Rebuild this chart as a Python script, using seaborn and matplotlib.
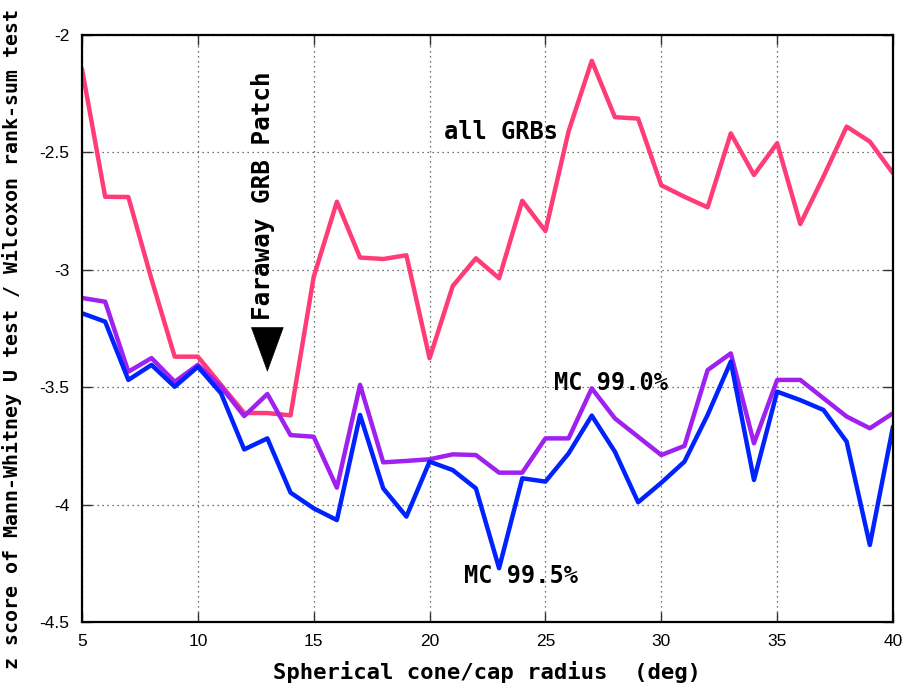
import matplotlib
matplotlib.use("Agg")
import matplotlib.pyplot as plt
import seaborn as sns
import pandas as pd

radius = list(range(5, 41))
all_grbs = [-2.145, -2.689, -2.69, -3.04, -3.37, -3.37, -3.49, -3.61, -3.61, -3.62,
            -3.03, -2.71, -2.948, -2.954, -2.938, -3.377, -3.069, -2.951, -3.036, -2.706,
            -2.835, -2.41, -2.11, -2.35, -2.356, -2.64, -2.689, -2.734, -2.419, -2.596,
            -2.461, -2.805, -2.603, -2.39, -2.454, -2.589]
mc_990 = [-3.12, -3.136, -3.434, -3.376, -3.477, -3.405, -3.498, -3.623, -3.529, -3.704,
          -3.711, -3.928, -3.49, -3.82, -3.814, -3.807, -3.786, -3.789, -3.864, -3.864,
          -3.718, -3.718, -3.505, -3.633, -3.711, -3.789, -3.75, -3.427, -3.356, -3.739,
          -3.469, -3.469, -3.547, -3.625, -3.675, -3.611]
mc_995 = [-3.185, -3.221, -3.469, -3.405, -3.498, -3.413, -3.526, -3.765, -3.718, -3.949,
          -4.016, -4.066, -3.618, -3.931, -4.051, -3.817, -3.853, -3.931, -4.271, -3.888,
          -3.902, -3.782, -3.621, -3.775, -3.99, -3.907, -3.817, -3.618, -3.391, -3.895,
          -3.519, -3.555, -3.597, -3.732, -4.172, -3.668]

xticks = [5, 10, 15, 20, 25, 30, 35, 40]
yticks = [-4.5, -4.0, -3.5, -3.0, -2.5, -2.0]
ytick_labels = ["-4.5", "-4", "-3.5", "-3", "-2.5", "-2"]

sns.set_theme(style="white")
plt.rcParams["font.family"] = ["DejaVu Sans Mono", "DejaVu Sans"]
plt.rcParams["text.color"] = "black"
plt.rcParams["axes.labelcolor"] = "black"
plt.rcParams["xtick.color"] = "black"
plt.rcParams["ytick.color"] = "black"

fig = plt.figure(figsize=(9.07, 6.91), dpi=100)
ax = fig.add_axes([82/907, 1-622/691, 811/907, 587/691])

df = pd.DataFrame({"r": radius, "all": all_grbs, "m990": mc_990, "m995": mc_995})
sns.lineplot(data=df, x="r", y="all", ax=ax, color="#ff3c78", linewidth=3.2)
sns.lineplot(data=df, x="r", y="m990", ax=ax, color="#a020f0", linewidth=3.2)
sns.lineplot(data=df, x="r", y="m995", ax=ax, color="#0022ff", linewidth=3.2)

ax.set_xlim(5, 40)
ax.set_ylim(-4.5, -2.0)
ax.set_xticks(xticks)
ax.set_xticklabels([str(v) for v in xticks], family="Liberation Sans", fontsize=12.5)
ax.set_yticks(yticks)
ax.set_yticklabels(ytick_labels, family="Liberation Sans", fontsize=12.5)
ax.tick_params(axis="both", direction="in", length=7, width=1, color="#333333",
               labelcolor="black",
               top=True, right=True, bottom=True, left=True, pad=9)
ax.grid(True, linestyle=(0, (1, 3)), color="#444444", linewidth=0.9)
for sp in ax.spines.values():
    sp.set_color("black")
    sp.set_linewidth(1.6)

ax.set_xlabel("Spherical cone/cap radius  (deg)", fontsize=16, fontweight="bold",
              color="black")
ax.set_ylabel("z score of Mann-Whitney U test / Wilcoxon rank-sum test",
              fontsize=14.3, fontweight="bold", color="black")
ax.xaxis.set_label_coords(0.499, -0.066)
ax.yaxis.set_label_coords(-0.074, 0.482)

ax.text(23.08, -2.413, "all GRBs", fontsize=17, fontweight="bold", ha="center",
        va="center", color="black")
ax.text(27.83, -3.482, "MC 99.0%", fontsize=17, fontweight="bold", ha="center",
        va="center", color="black")
ax.text(23.95, -4.304, "MC 99.5%", fontsize=17, fontweight="bold", ha="center",
        va="center", color="black")
ax.text(12.81, -2.686, "Faraway GRB Patch", fontsize=17.5, fontweight="bold",
        rotation=90, ha="center", va="center", color="black")
ax.annotate("", xy=(13.0, -3.435), xytext=(13.0, -3.255),
            arrowprops=dict(arrowstyle="-|>,head_length=2.6,head_width=0.95",
                            color="black", lw=0.5, shrinkA=0, shrinkB=0))

fig.savefig("out.png", dpi=100)
